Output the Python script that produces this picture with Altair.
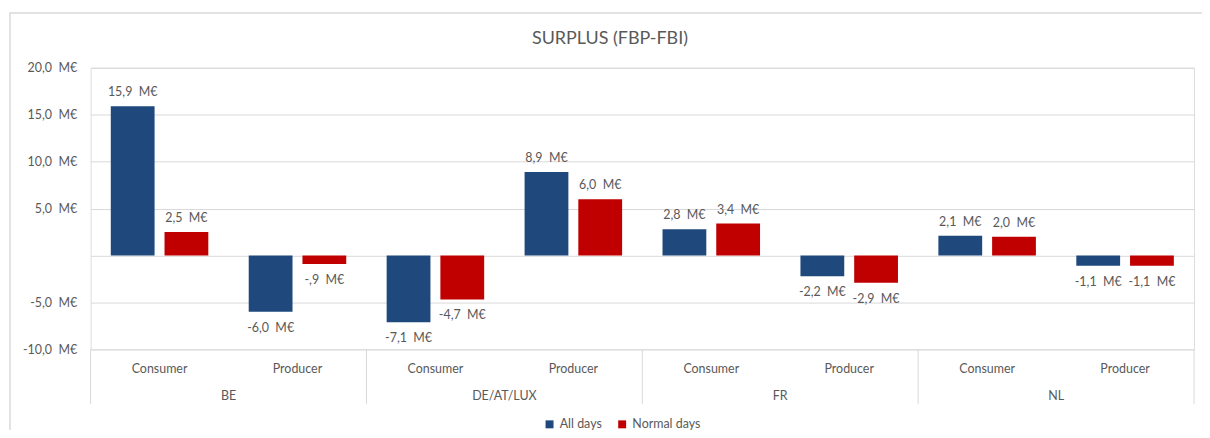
import altair as alt
import pandas as pd

groups = ["BE", "BE", "DE/AT/LUX", "DE/AT/LUX", "FR", "FR", "NL", "NL"]
subs = ["Consumer", "Producer"] * 4
all_days = [15.9, -6.0, -7.1, 8.9, 2.8, -2.2, 2.1, -1.1]
normal_days = [2.5, -0.9, -4.7, 6.0, 3.4, -2.9, 2.0, -1.1]
series_names = ["All days", "Normal days"]
colors = ["#1F497D", "#C00000"]
group_names = ["BE", "DE/AT/LUX", "FR", "NL"]
title_text = "SURPLUS (FBP-FBI)"

GAP = " \u00a0"


def fmt(v):
    s = f"{abs(v):.1f}".replace(".", ",")
    if s.startswith("0"):
        s = s[1:]
    return ("-" if v < 0 else "") + s + GAP + "M€"


cats = [f"{g}|{s}" for g, s in zip(groups, subs)]
rows = []
for name, vals in zip(series_names, [all_days, normal_days]):
    for c, g, s, v in zip(cats, groups, subs, vals):
        rows.append({"cat": c, "group": g, "sub": s, "series": name, "value": v, "label": fmt(v)})
df = pd.DataFrame(rows)

cat_df = pd.DataFrame({"cat": cats, "sub": subs})
grp_df = pd.DataFrame({"cat": [cats[i * 2] for i in range(4)], "group": group_names})
end_df = pd.DataFrame({"cat": [cats[-1]]})
title_df = pd.DataFrame({"t": [title_text]})

W, H = 1109, 283
FONT = "Lato"
GREY = "#595959"
LINE = "#D9D9D9"

xscale = alt.Scale(domain=cats, paddingInner=0, paddingOuter=0)
x = alt.X("cat:N", scale=xscale, axis=None)
xoff = alt.XOffset("series:N", sort=series_names,
                   scale=alt.Scale(paddingInner=0.185, paddingOuter=0.376))

ylab = ("datum.value == 0 ? '' : (datum.value < 0 ? '-' : '') + "
        "replace(format(abs(datum.value), '.1f'), '.', ',') + '" + GAP + "M€'")

bars = alt.Chart(df).mark_bar().encode(
    x=x,
    xOffset=xoff,
    y=alt.Y("value:Q", scale=alt.Scale(domain=[-10, 20], nice=False),
            axis=alt.Axis(values=[-10, -5, 0, 5, 10, 15, 20], labelExpr=ylab, title=None,
                          domain=False, ticks=False, labelPadding=14, grid=True,
                          gridColor=LINE, gridWidth=1, labelFont=FONT, labelFontSize=12.5,
                          labelColor=GREY)),
    color=alt.Color("series:N", sort=series_names,
                    scale=alt.Scale(domain=series_names, range=colors),
                    legend=alt.Legend(title=None, orient="none", legendX=455, legendY=352,
                                      direction="horizontal", symbolType="square",
                                      symbolSize=64, symbolStrokeWidth=0,
                                      labelFont=FONT, labelFontSize=12.5, labelColor=GREY,
                                      columnPadding=14, symbolOffset=0)),
)

pos_lab = alt.Chart(df).transform_filter("datum.value >= 0").mark_text(
    baseline="bottom", dy=-7, font=FONT, fontSize=12.5, color=GREY
).encode(x=x, xOffset=xoff, y="value:Q", text="label:N")

neg_lab = alt.Chart(df).transform_filter("datum.value < 0").mark_text(
    baseline="top", dy=10, font=FONT, fontSize=12.5, color=GREY
).encode(x=x, xOffset=xoff, y="value:Q", text="label:N")

sub_text = alt.Chart(cat_df).mark_text(
    baseline="middle", font=FONT, fontSize=12.5, color=GREY
).encode(x=x, y=alt.value(H + 20), text="sub:N")

grp_text = alt.Chart(grp_df).mark_text(
    baseline="middle", font=FONT, fontSize=12.5, color=GREY
).encode(x=alt.X("cat:N", scale=xscale, axis=None, bandPosition=1),
         y=alt.value(H + 47), text="group:N")

sep = alt.Chart(grp_df).mark_rule(color=LINE, strokeWidth=1).encode(
    x=alt.X("cat:N", scale=xscale, axis=None, bandPosition=0),
    y=alt.value(H), y2=alt.value(H + 55))

sep_end = alt.Chart(end_df).mark_rule(color=LINE, strokeWidth=1).encode(
    x=alt.X("cat:N", scale=xscale, axis=None, bandPosition=1),
    y=alt.value(H), y2=alt.value(H + 55))

frame = alt.Chart(end_df).mark_rect(fill=None, stroke=LINE, strokeWidth=1.5).encode(
    x=alt.value(-81), x2=alt.value(W + 40), y=alt.value(-55), y2=alt.value(H + 100))

title = alt.Chart(title_df).mark_text(
    font=FONT, fontSize=18, color=GREY, baseline="middle", align="center"
).encode(x=alt.value(522), y=alt.value(-29), text="t:N")

chart = alt.layer(frame, bars, pos_lab, neg_lab, sub_text, grp_text, sep, sep_end, title).properties(
    width=W, height=H,
    autosize=alt.AutoSizeParams(type="none"),
    padding={"left": 83, "top": 59, "right": 8, "bottom": 80},
).configure_view(stroke=None).configure(background="white")

chart.save("out.html", embed_options={"renderer": "svg", "actions": False})
